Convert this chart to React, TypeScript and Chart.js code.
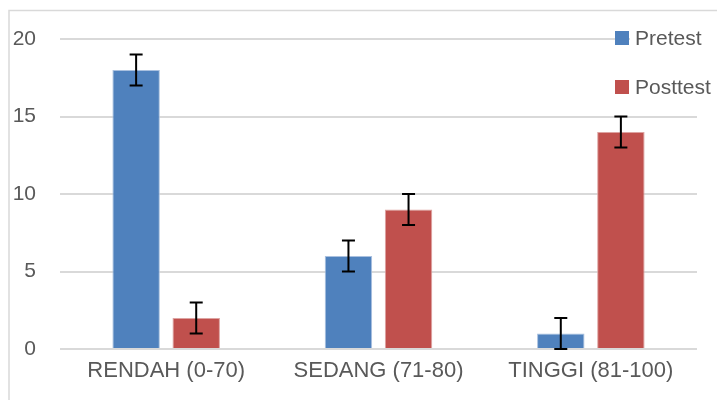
import React, { useEffect, useRef } from "react";
import { Chart, registerables } from "chart.js";

Chart.register(...registerables);

const categories = ["RENDAH (0-70)", "SEDANG (71-80)", "TINGGI (81-100)"];
const seriesNames = ["Pretest", "Posttest"];
const pretest = [18, 6, 1];
const posttest = [2, 9, 14];
const pretestErr = [1, 1, 1];
const posttestErr = [1, 1, 1];
const yTicks = [0, 5, 10, 15, 20];

const FONT = "'Liberation Sans', Arial, sans-serif";
const TEXT = "#595959";
const GRID = "#D9D9D9";

const errorBarPlugin = {
  id: "errorBars",
  afterDatasetsDraw(chart: any) {
    const ctx = chart.ctx;
    const yScale = chart.scales.y;
    chart.data.datasets.forEach((ds: any, di: number) => {
      const meta = chart.getDatasetMeta(di);
      const errs = ds.errors || [];
      meta.data.forEach((el: any, i: number) => {
        const v = ds.data[i];
        const e = errs[i] || 0;
        const yTop = yScale.getPixelForValue(v + e);
        const yBot = yScale.getPixelForValue(Math.max(v - e, 0));
        const x = el.x;
        ctx.save();
        ctx.strokeStyle = "#000000";
        ctx.lineWidth = 2;
        ctx.beginPath();
        ctx.moveTo(x, yTop);
        ctx.lineTo(x, yBot);
        ctx.moveTo(x - 6.5, yTop);
        ctx.lineTo(x + 6.5, yTop);
        ctx.moveTo(x - 6.5, yBot);
        ctx.lineTo(x + 6.5, yBot);
        ctx.stroke();
        ctx.restore();
      });
    });
  },
};

const frameLegendPlugin = {
  id: "frameLegend",
  afterDraw(chart: any) {
    const ctx = chart.ctx;
    ctx.save();
    ctx.strokeStyle = GRID;
    ctx.lineWidth = 1.5;
    ctx.beginPath();
    ctx.moveTo(9, 400);
    ctx.lineTo(9, 10.5);
    ctx.lineTo(717, 10.5);
    ctx.stroke();
    const items = chart.data.datasets;
    const x0 = 615;
    const y0 = 38;
    const gap = 49;
    ctx.fillStyle = "#FFFFFF";
    ctx.fillRect(630, y0 - 12, 87, 24);
    ctx.fillRect(630, y0 + gap - 12, 87, 24);
    items.forEach((ds: any, i: number) => {
      const cy = y0 + i * gap;
      ctx.fillStyle = ds.backgroundColor;
      ctx.fillRect(x0, cy - 7, 14, 14);
      ctx.fillStyle = TEXT;
      ctx.font = `21px ${FONT}`;
      ctx.textBaseline = "middle";
      ctx.textAlign = "left";
      ctx.fillText(ds.label, x0 + 20, cy + 1);
    });
    ctx.restore();
  },
};

export default function App() {
  const ref = useRef<HTMLCanvasElement | null>(null);

  useEffect(() => {
    if (!ref.current) return;
    const chart = new Chart(ref.current, {
      type: "bar",
      data: {
        labels: categories,
        datasets: [
          {
            label: seriesNames[0],
            data: pretest,
            errors: pretestErr,
            backgroundColor: "#4F81BD",
            borderColor: "#A9C0DF",
            borderWidth: 1,
            categoryPercentage: 0.566,
            barPercentage: 0.79,
          } as any,
          {
            label: seriesNames[1],
            data: posttest,
            errors: posttestErr,
            backgroundColor: "#C0504D",
            borderColor: "#DDA3A1",
            borderWidth: 1,
            categoryPercentage: 0.566,
            barPercentage: 0.79,
          } as any,
        ],
      },
      options: {
        animation: false,
        responsive: false,
        maintainAspectRatio: false,
        layout: { padding: { left: 0, right: 20, top: 39, bottom: 0 } },
        plugins: {
          legend: { display: false },
          tooltip: { enabled: false },
        },
        scales: {
          x: {
            grid: { display: false, drawTicks: false },
            border: { display: false },
            ticks: {
              color: TEXT,
              font: { family: FONT, size: 22 },
              padding: 9,
              maxRotation: 0,
            },
            afterFit: (scale: any) => {
              scale.height = 51;
            },
          },
          y: {
            min: 0,
            max: 20,
            afterBuildTicks: (scale: any) => {
              scale.ticks = yTicks.map((v) => ({ value: v }));
            },
            grid: { color: GRID, lineWidth: 2, drawTicks: false },
            border: { display: false },
            ticks: {
              color: TEXT,
              font: { family: FONT, size: 21 },
              padding: 24,
            },
            afterFit: (scale: any) => {
              scale.width = 60;
            },
          },
        },
      },
      plugins: [errorBarPlugin, frameLegendPlugin],
    });
    return () => chart.destroy();
  }, []);

  return (
    <div style={{ position: "absolute", left: 0, top: 0, width: 717, height: 400, background: "#fff" }}>
      <canvas ref={ref} width={717} height={400} style={{ display: "block", width: 717, height: 400 }} />
    </div>
  );
}
